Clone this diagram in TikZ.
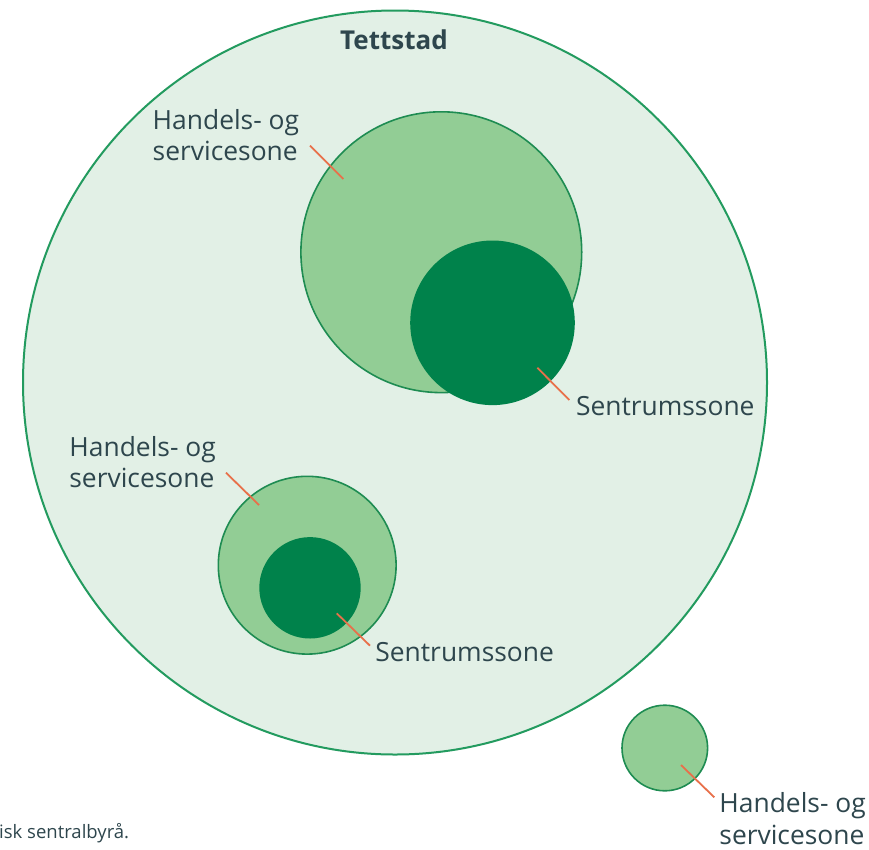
\documentclass[tikz,border=0pt]{standalone}
\usepackage{fontspec}
\setmainfont{Open Sans}
\definecolor{bgzone}{HTML}{E2F0E6}
\definecolor{edgegreen}{HTML}{239B5F}
\definecolor{inneredge}{HTML}{1E8C52}
\definecolor{midgreen}{HTML}{92CD95}
\definecolor{darkgreen}{HTML}{00824B}
\definecolor{leadercol}{HTML}{E8704A}
\definecolor{txtcol}{HTML}{2E464D}
\newcommand{\twolines}[2]{\vtop{\hbox{#1}\hbox{#2}}}
\begin{document}
\begin{tikzpicture}[x=1pt,y=-1pt,
  zone/.style={circle, inner sep=0pt, outer sep=0pt},
  tettstadzone/.style={zone, draw=edgegreen, line width=2pt, fill=bgzone},
  handelzone/.style={zone, draw=inneredge, line width=1.6pt, fill=midgreen},
  sentrumzone/.style={zone, fill=darkgreen},
  leaderline/.style={draw=leadercol, line width=1.8pt},
  lbl/.style={text=txtcol, inner sep=0pt, outer sep=0pt, anchor=base west,
    font=\fontsize{26.4}{31.5}\selectfont},
  titlelbl/.style={lbl, anchor=base, font=\fontsize{26}{30}\selectfont\bfseries},
  footlbl/.style={text=txtcol, inner sep=0pt, anchor=base west, font=\fontsize{18.5}{22}\selectfont}
]
\useasboundingbox (0,0) rectangle (869,849);
\fill[white] (0,0) rectangle (869,849);

% zones
\node[tettstadzone, minimum size=744pt] (tett) at (395,382.5) {};
\node[handelzone, minimum size=280.8pt] (hs1) at (441.3,252.2) {};
\node[sentrumzone, minimum size=164.6pt] (sz1) at (492.5,322.8) {};
\node[handelzone, minimum size=177.8pt] (hs2) at (307.2,565.2) {};
\node[sentrumzone, minimum size=101.4pt] (sz2) at (310,587.8) {};
\node[handelzone, minimum size=85.6pt] (hs3) at (664.8,748) {};

% labels
\node[titlelbl] (ttitle) at (394,49.3) {Tettstad};
\node[lbl] (lh1) at (152.7,129.3) {\twolines{Handels- og}{servicesone}};
\node[lbl] (ls1) at (576,415) {Sentrumssone};
\node[lbl] (lh2) at (69.4,456) {\twolines{Handels- og}{servicesone}};
\node[lbl] (ls2) at (375.4,661) {Sentrumssone};
\node[lbl] (lh3) at (719.4,812.7) {\twolines{Handels- og}{servicesone}};
\node[footlbl] (src) at (-1,838) {isk sentralbyrå.};

% leader lines
\coordinate (a1) at (310,145.7);  \coordinate (b1) at (343.3,179);
\coordinate (a2) at (537.3,367.7); \coordinate (b2) at (569.3,400);
\coordinate (a3) at (226,472.7);  \coordinate (b3) at (259,505);
\coordinate (a4) at (336.7,613.3); \coordinate (b4) at (370,645.7);
\coordinate (a5) at (681,765);    \coordinate (b5) at (714.3,797.3);
\draw[leaderline] (a1) -- (b1);
\draw[leaderline] (a2) -- (b2);
\draw[leaderline] (a3) -- (b3);
\draw[leaderline] (a4) -- (b4);
\draw[leaderline] (a5) -- (b5);
\end{tikzpicture}
\end{document}
